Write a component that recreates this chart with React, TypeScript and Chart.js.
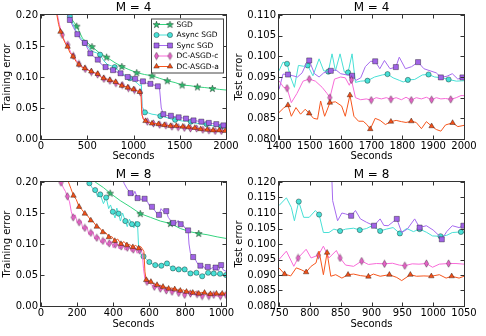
import React, { useEffect, useRef } from 'react';
import { Chart, registerables } from 'chart.js';
import { drawPoint } from 'chart.js/helpers';

Chart.register(...registerables);

type Pt = [number, number];

// ---------- Series names ----------
const seriesNames = ['SGD', 'Async SGD', 'Sync SGD', 'DC-ASGD-c', 'DC-ASGD-a'];

// ---------- Top-left: M = 4, training error ----------
const tlSgd: Pt[] = [[280,0.21],[300,0.200],[386,0.182],[450,0.162],[551,0.149],[630,0.139],[709,0.132],[800,0.123],[874,0.117],[950,0.112],[1035,0.107],[1120,0.104],[1200,0.102],[1280,0.098],[1365,0.094],[1450,0.091],[1526,0.087],[1610,0.086],[1691,0.084],[1770,0.083],[1853,0.0815],[1930,0.080],[2000,0.079]];
const tlSgdMarks = [386,551,709,874,1035,1200,1365,1526,1691,1853];
const tlAsync: Pt[] = [[290,0.21],[312,0.198],[360,0.180],[400,0.168],[474,0.155],[520,0.146],[560,0.141],[600,0.139],[639,0.136],[680,0.126],[720,0.120],[760,0.118],[797,0.116],[840,0.110],[880,0.106],[920,0.101],[961,0.098],[1000,0.095],[1040,0.090],[1070,0.086],[1085,0.088],[1095,0.052],[1123,0.043],[1160,0.042],[1200,0.040],[1245,0.039],[1290,0.037],[1330,0.036],[1370,0.034],[1410,0.032],[1450,0.031],[1490,0.030],[1530,0.029],[1575,0.029],[1620,0.028],[1660,0.026],[1700,0.025],[1745,0.024],[1790,0.024],[1830,0.022],[1870,0.021],[1910,0.021],[1950,0.020],[2000,0.019]];
const tlAsyncMarks = [312,474,639,797,961,1123,1290,1450,1620,1790,1950];
const tlSync: Pt[] = [[280,0.21],[312,0.192],[350,0.180],[393,0.169],[430,0.160],[474,0.155],[500,0.147],[533,0.138],[570,0.133],[614,0.128],[650,0.121],[698,0.116],[740,0.113],[779,0.111],[820,0.108],[860,0.106],[900,0.102],[937,0.100],[980,0.098],[1018,0.097],[1060,0.094],[1102,0.093],[1140,0.090],[1183,0.089],[1220,0.087],[1263,0.085],[1280,0.084],[1300,0.050],[1323,0.040],[1360,0.038],[1404,0.0375],[1450,0.036],[1488,0.035],[1530,0.034],[1568,0.033],[1610,0.031],[1649,0.030],[1690,0.029],[1733,0.028],[1775,0.027],[1814,0.026],[1855,0.025],[1895,0.024],[1935,0.023],[1972,0.022],[2000,0.021]];
const tlSyncMarks = [312,393,474,533,614,698,779,860,937,1018,1102,1183,1263,1323,1404,1488,1568,1649,1733,1814,1895,1972];
const tlDcc: Pt[] = [[165,0.21],[178,0.200],[200,0.184],[230,0.168],[255,0.158],[290,0.152],[320,0.140],[350,0.134],[380,0.127],[410,0.121],[445,0.117],[478,0.113],[510,0.112],[545,0.108],[578,0.106],[612,0.104],[645,0.101],[680,0.097],[712,0.095],[745,0.094],[778,0.092],[810,0.090],[845,0.089],[878,0.087],[910,0.085],[945,0.082],[978,0.080],[1010,0.079],[1045,0.077],[1075,0.075],[1085,0.072],[1095,0.038],[1115,0.031],[1150,0.028],[1180,0.026],[1215,0.025],[1250,0.024],[1283,0.023],[1315,0.022],[1350,0.022],[1383,0.021],[1415,0.020],[1450,0.020],[1483,0.019],[1515,0.019],[1550,0.018],[1583,0.018],[1615,0.017],[1650,0.016],[1683,0.017],[1715,0.016],[1750,0.015],[1783,0.015],[1815,0.014],[1850,0.014],[1883,0.013],[1915,0.014],[1950,0.013],[1983,0.012],[2000,0.012]];
const tlDccMarks = [230,290,350,410,478,545,612,680,745,810,878,945,1010,1075,1150,1215,1283,1350,1415,1483,1550,1615,1683,1750,1815,1883,1950];
const tlDca: Pt[] = [[160,0.21],[172,0.200],[190,0.185],[211,0.173],[240,0.162],[260,0.155],[288,0.149],[310,0.140],[347,0.133],[380,0.125],[411,0.120],[440,0.116],[474,0.114],[510,0.111],[544,0.109],[580,0.107],[614,0.105],[645,0.100],[677,0.098],[710,0.097],[744,0.095],[775,0.094],[807,0.092],[840,0.088],[874,0.086],[905,0.085],[937,0.083],[970,0.081],[1000,0.080],[1035,0.078],[1067,0.076],[1080,0.074],[1090,0.040],[1105,0.032],[1130,0.029],[1165,0.027],[1200,0.025],[1235,0.025],[1270,0.024],[1300,0.023],[1333,0.0225],[1365,0.022],[1400,0.021],[1430,0.0215],[1463,0.021],[1500,0.020],[1533,0.020],[1565,0.019],[1596,0.019],[1630,0.018],[1663,0.018],[1695,0.017],[1726,0.016],[1760,0.016],[1797,0.015],[1830,0.015],[1860,0.014],[1895,0.014],[1926,0.014],[1960,0.013],[1990,0.013],[2000,0.013]];
const tlDcaMarks = [211,288,347,411,474,544,614,677,744,807,874,937,1000,1067,1130,1200,1270,1333,1400,1463,1533,1596,1663,1726,1797,1860,1926,1990];

// ---------- Top-right: M = 4, test error ----------
const trAsync: Pt[] = [[1400,0.0965],[1413,0.0986],[1426,0.0982],[1438,0.0949],[1450,0.0925],[1463,0.0978],[1480,0.0976],[1493,0.0978],[1510,0.0953],[1530,0.0994],[1545,0.0965],[1560,0.0963],[1572,0.1006],[1583,0.0965],[1598,0.1006],[1612,0.0962],[1624,0.0961],[1637,0.1006],[1648,0.0937],[1665,0.0940],[1687,0.0941],[1710,0.0950],[1735,0.0955],[1752,0.0957],[1770,0.0948],[1790,0.0942],[1803,0.0938],[1818,0.0943],[1840,0.0944],[1865,0.0955],[1885,0.0956],[1905,0.0950],[1930,0.0948],[1950,0.0944],[1975,0.0940],[2000,0.0941]];
const trAsyncMarks = [1426,1493,1560,1624,1687,1752,1818,1885,1950];
const trSync: Pt[] = [[1400,0.0920],[1413,0.0957],[1429,0.0956],[1445,0.0953],[1460,0.0950],[1475,0.0960],[1490,0.0985],[1498,0.0990],[1515,0.0958],[1530,0.0950],[1545,0.0960],[1568,0.0965],[1585,0.0967],[1600,0.0958],[1620,0.0955],[1637,0.0953],[1650,0.0942],[1665,0.0948],[1680,0.0975],[1697,0.0988],[1712,0.0988],[1727,0.0970],[1742,0.0990],[1760,0.0970],[1779,0.0974],[1790,0.0998],[1810,0.0970],[1830,0.0975],[1851,0.0986],[1870,0.0970],[1890,0.0965],[1910,0.0960],[1925,0.0949],[1945,0.0952],[1962,0.0958],[1980,0.0945],[1995,0.0949],[2000,0.0951]];
const trSyncMarks = [1429,1498,1568,1637,1712,1779,1851,1925,1995];
const trDcc: Pt[] = [[1400,0.0941],[1415,0.0925],[1426,0.0923],[1440,0.0888],[1458,0.0910],[1478,0.0940],[1498,0.0945],[1518,0.0940],[1540,0.0925],[1556,0.0910],[1565,0.0900],[1580,0.0945],[1600,0.0950],[1615,0.0948],[1628,0.0930],[1635,0.0943],[1648,0.0900],[1665,0.0895],[1683,0.0897],[1699,0.0894],[1715,0.0900],[1732,0.0897],[1748,0.0900],[1763,0.0896],[1780,0.0900],[1797,0.0895],[1812,0.0901],[1829,0.0894],[1845,0.0900],[1862,0.0897],[1878,0.0901],[1895,0.0895],[1910,0.0900],[1925,0.0897],[1940,0.0898],[1957,0.0896],[1975,0.0900],[1990,0.0905],[2000,0.0905]];
const trDccMarks = [1426,1498,1565,1635,1699,1763,1829,1895,1957];
const trDca: Pt[] = [[1400,0.0864],[1415,0.0875],[1429,0.0882],[1440,0.0855],[1455,0.0876],[1470,0.0860],[1485,0.0872],[1498,0.0862],[1512,0.0850],[1525,0.0848],[1535,0.0892],[1548,0.0855],[1556,0.0870],[1565,0.0888],[1583,0.0890],[1603,0.0880],[1615,0.0855],[1630,0.0906],[1643,0.0855],[1658,0.0843],[1673,0.0843],[1685,0.0835],[1696,0.0824],[1712,0.0850],[1728,0.0845],[1745,0.0835],[1763,0.0842],[1780,0.0845],[1797,0.0842],[1812,0.0840],[1829,0.0843],[1845,0.0840],[1862,0.0825],[1878,0.0842],[1895,0.0831],[1910,0.0823],[1925,0.0819],[1940,0.0834],[1963,0.0839],[1980,0.0830],[2000,0.0833]];
const trDcaMarks = [1429,1498,1565,1630,1696,1763,1829,1895,1963];

// ---------- Bottom-left: M = 8, training error ----------
const blSgd: Pt[] = [[290,0.205],[300,0.200],[346,0.191],[383,0.182],[439,0.170],[494,0.160],[550,0.149],[606,0.143],[661,0.137],[717,0.133],[772,0.125],[828,0.1196],[874,0.117],[920,0.115],[976,0.1115],[1025,0.109]];
const blSgdMarks = [383,550,717,874];
const blAsync: Pt[] = [[255,0.21],[268,0.198],[285,0.190],[300,0.187],[314,0.176],[328,0.180],[346,0.165],[361,0.175],[375,0.157],[385,0.163],[398,0.152],[410,0.142],[420,0.158],[430,0.149],[440,0.137],[452,0.150],[467,0.137],[478,0.128],[490,0.140],[504,0.132],[515,0.126],[525,0.137],[535,0.132],[540,0.100],[550,0.084],[568,0.080],[585,0.075],[600,0.071],[615,0.068],[633,0.066],[650,0.066],[667,0.065],[683,0.068],[698,0.0686],[715,0.064],[731,0.0606],[748,0.060],[763,0.059],[780,0.060],[796,0.059],[812,0.055],[828,0.0525],[845,0.054],[861,0.0536],[877,0.050],[893,0.048],[910,0.052],[926,0.0536],[941,0.052],[957,0.0525],[975,0.051],[992,0.052],[1010,0.051],[1025,0.050]];
const blAsyncMarks = [268,300,328,361,398,430,467,504,535,568,600,633,667,698,731,763,796,828,861,893,926,957,992,1025];
const blSync: Pt[] = [[450,0.21],[460,0.198],[475,0.190],[496,0.182],[510,0.178],[520,0.185],[535,0.174],[555,0.172],[574,0.173],[590,0.168],[600,0.162],[615,0.160],[628,0.155],[640,0.150],[654,0.147],[665,0.157],[680,0.152],[694,0.153],[705,0.143],[718,0.138],[733,0.134],[748,0.133],[760,0.138],[774,0.132],[788,0.130],[800,0.125],[815,0.122],[820,0.100],[828,0.085],[843,0.079],[855,0.075],[868,0.068],[883,0.065],[900,0.064],[910,0.060],[924,0.063],[940,0.060],[952,0.062],[967,0.062],[983,0.057],[998,0.066],[1010,0.058],[1025,0.056]];
const blSyncMarks = [496,535,574,615,654,694,733,774,815,843,883,924,967,998];
const blDcc: Pt[] = [[105,0.21],[111,0.199],[125,0.190],[135,0.185],[146,0.177],[158,0.168],[168,0.152],[178,0.143],[190,0.147],[200,0.135],[211,0.135],[222,0.138],[232,0.124],[243,0.126],[255,0.128],[265,0.115],[276,0.118],[288,0.120],[298,0.108],[309,0.110],[320,0.112],[332,0.102],[343,0.105],[355,0.108],[366,0.098],[378,0.101],[390,0.104],[400,0.094],[411,0.099],[422,0.101],[433,0.092],[444,0.096],[455,0.099],[466,0.090],[478,0.094],[490,0.096],[500,0.088],[511,0.091],[522,0.094],[533,0.085],[545,0.090],[555,0.092],[562,0.082],[568,0.060],[575,0.045],[587,0.039],[600,0.037],[613,0.034],[628,0.031],[645,0.030],[661,0.028],[678,0.027],[694,0.025],[710,0.026],[726,0.023],[745,0.024],[763,0.021],[780,0.022],[796,0.018],[812,0.021],[828,0.020],[846,0.018],[865,0.019],[880,0.017],[893,0.016],[912,0.018],[930,0.016],[945,0.018],[957,0.018],[975,0.016],[994,0.016],[1010,0.018],[1025,0.018]];
const blDccMarks = [111,146,178,211,243,276,309,343,378,411,444,478,511,545,587,628,661,694,726,763,796,828,865,893,930,957,994,1025];
const blDca: Pt[] = [[145,0.21],[152,0.200],[165,0.190],[180,0.178],[195,0.172],[211,0.160],[228,0.155],[243,0.149],[260,0.145],[276,0.138],[292,0.135],[309,0.128],[325,0.126],[343,0.119],[360,0.118],[376,0.111],[392,0.112],[409,0.105],[425,0.108],[443,0.100],[460,0.104],[476,0.098],[492,0.099],[509,0.095],[525,0.098],[541,0.093],[552,0.096],[562,0.092],[570,0.088],[576,0.055],[583,0.042],[596,0.041],[609,0.039],[625,0.036],[643,0.034],[660,0.033],[676,0.031],[692,0.030],[707,0.028],[724,0.029],[741,0.027],[757,0.026],[772,0.0247],[790,0.026],[806,0.023],[824,0.024],[841,0.0214],[857,0.023],[874,0.020],[890,0.022],[906,0.0214],[922,0.019],[939,0.0193],[955,0.021],[972,0.020],[988,0.019],[1004,0.020],[1025,0.021]];
const blDcaMarks = [180,211,243,276,309,343,376,409,443,476,509,541,583,609,643,676,707,741,772,806,841,874,906,939,972,1004];

// ---------- Bottom-right: M = 8, test error ----------
const brAsync: Pt[] = [[750,0.1124],[762,0.1149],[770,0.1118],[775,0.1075],[782,0.1137],[790,0.1086],[799,0.1086],[809,0.1108],[815,0.1095],[822,0.1037],[831,0.1037],[839,0.1048],[849,0.1042],[858,0.1048],[871,0.1051],[881,0.1045],[892,0.1050],[901,0.1059],[914,0.1042],[924,0.1048],[935,0.1053],[946,0.1034],[957,0.1050],[968,0.1040],[978,0.1048],[989,0.1038],[999,0.1026],[1012,0.1025],[1022,0.1028],[1031,0.1037],[1045,0.1039],[1050,0.1037]];
const brAsyncMarks = [782,815,849,881,914,946,978,1012,1045];
const brSync: Pt[] = [[835,0.125],[837,0.114],[845,0.1075],[852,0.110],[858,0.1097],[867,0.1091],[874,0.1108],[882,0.1081],[892,0.1070],[904,0.1059],[914,0.1081],[920,0.1060],[927,0.1059],[941,0.1081],[949,0.1037],[958,0.1048],[970,0.1081],[978,0.1053],[989,0.1059],[1000,0.1045],[1008,0.1030],[1014,0.1015],[1022,0.1040],[1031,0.1059],[1042,0.1053],[1049,0.1059],[1050,0.1060]];
const brSyncMarks = [867,904,941,978,1014,1049];
const brDcc: Pt[] = [[750,0.0950],[762,0.0977],[774,0.0928],[781,0.0955],[794,0.0983],[802,0.0955],[814,0.0964],[822,0.0993],[831,0.0955],[843,0.0979],[849,0.0955],[858,0.0932],[871,0.0928],[884,0.0945],[895,0.0934],[908,0.0937],[921,0.0936],[934,0.0938],[945,0.0932],[954,0.0930],[966,0.0936],[977,0.0935],[989,0.0937],[999,0.0925],[1010,0.0935],[1025,0.0937],[1037,0.0937],[1050,0.0935]];
const brDccMarks = [781,814,849,884,921,954,989,1025];
const brDca: Pt[] = [[750,0.0923],[759,0.0903],[769,0.0897],[778,0.0923],[786,0.0917],[794,0.0909],[802,0.0928],[810,0.0939],[815,0.0977],[822,0.0901],[828,0.0972],[834,0.0896],[842,0.0901],[852,0.0890],[862,0.0901],[871,0.0903],[882,0.0898],[895,0.0895],[903,0.0903],[914,0.0896],[929,0.0901],[941,0.0892],[949,0.0882],[963,0.0901],[973,0.0896],[985,0.0897],[997,0.0896],[1010,0.0901],[1021,0.0890],[1030,0.0896],[1042,0.0890],[1050,0.0896]];
const brDcaMarks = [759,794,828,862,895,929,963,997,1030];

// ---------- Ticks ----------
const tlXTicks = [0, 500, 1000, 1500, 2000];
const trXTicks = [1400, 1500, 1600, 1700, 1800, 1900, 2000];
const blXTicks = [0, 200, 400, 600, 800, 1000];
const brXTicks = [750, 800, 850, 900, 950, 1000, 1050];
const trainYTicks = [0, 0.05, 0.1, 0.15, 0.2];
const tr4YTicks = [0.08, 0.085, 0.09, 0.095, 0.1, 0.105, 0.11];
const tr8YTicks = [0.08, 0.085, 0.09, 0.095, 0.1, 0.105, 0.11, 0.115, 0.12];

// ---------- Styles ----------
const FONT = 'DejaVu Sans';
const lineColors = ['#36d47f', '#48e0d6', '#a66bef', '#f86bd8', '#f6561d'];
const markFills = ['#2fc070', '#48e0d6', '#a063e6', '#e762c8', '#f0501a'];
const MARK_EDGE = 'rgba(0,0,0,0.6)';

function makeStar(fill: string) {
  const c = document.createElement('canvas');
  c.width = 9; c.height = 9;
  const g = c.getContext('2d')!;
  g.beginPath();
  for (let i = 0; i < 10; i++) {
    const a = -Math.PI / 2 + (i * Math.PI) / 5;
    const rr = i % 2 ? 1.5 : 3.7;
    const px = 4.5 + rr * Math.cos(a), py = 4.8 + rr * Math.sin(a);
    if (i) g.lineTo(px, py); else g.moveTo(px, py);
  }
  g.closePath();
  g.fillStyle = fill; g.fill();
  g.strokeStyle = MARK_EDGE; g.lineWidth = 0.6; g.stroke();
  return c;
}
function makeDiamond(fill: string) {
  const c = document.createElement('canvas');
  c.width = 7; c.height = 9;
  const g = c.getContext('2d')!;
  g.beginPath();
  g.moveTo(3.5, 0.8); g.lineTo(5.6, 4.5); g.lineTo(3.5, 8.2); g.lineTo(1.4, 4.5); g.closePath();
  g.fillStyle = fill; g.fill();
  g.strokeStyle = MARK_EDGE; g.lineWidth = 0.6; g.stroke();
  return c;
}

type MarkerSpec = { style: any; radius: number };
function markerSpecs(): MarkerSpec[] {
  return [
    { style: makeStar(markFills[0]), radius: 3 },
    { style: 'circle', radius: 2.6 },
    { style: 'rect', radius: 3.6 },
    { style: makeDiamond(markFills[3]), radius: 3 },
    { style: 'triangle', radius: 3.2 },
  ];
}

type PanelDef = {
  left: number; top: number; w: number; h: number;
  yw: number; padR: number; titleH: number; xh: number;
  title: string; yTitle: string; yTitlePad: number;
  xMin: number; xMax: number; xTicks: number[];
  yMin: number; yMax: number; yTicks: number[]; yDec: number;
  lines: Pt[][]; marks: number[][]; legend: boolean;
};

const panels: PanelDef[] = [
  { left: 0, top: 0, w: 243, h: 168, yw: 41, padR: 17, titleH: 15, xh: 29, title: 'M = 4', yTitle: 'Training error', yTitlePad: 1.5,
    xMin: 0, xMax: 2000, xTicks: tlXTicks, yMin: 0, yMax: 0.2, yTicks: trainYTicks, yDec: 2,
    lines: [tlSgd, tlAsync, tlSync, tlDcc, tlDca], marks: [tlSgdMarks, tlAsyncMarks, tlSyncMarks, tlDccMarks, tlDcaMarks], legend: true },
  { left: 226, top: 0, w: 260, h: 168, yw: 53, padR: 22, titleH: 15, xh: 29, title: 'M = 4', yTitle: 'Test error', yTitlePad: 7.8,
    xMin: 1400, xMax: 2000, xTicks: trXTicks, yMin: 0.08, yMax: 0.11, yTicks: tr4YTicks, yDec: 3,
    lines: [[], trAsync, trSync, trDcc, trDca], marks: [[], trAsyncMarks, trSyncMarks, trDccMarks, trDcaMarks], legend: false },
  { left: 0, top: 168, w: 243, h: 168, yw: 41, padR: 17, titleH: 14, xh: 30, title: 'M = 8', yTitle: 'Training error', yTitlePad: 1.5,
    xMin: 0, xMax: 1025, xTicks: blXTicks, yMin: 0, yMax: 0.2, yTicks: trainYTicks, yDec: 2,
    lines: [blSgd, blAsync, blSync, blDcc, blDca], marks: [blSgdMarks, blAsyncMarks, blSyncMarks, blDccMarks, blDcaMarks], legend: false },
  { left: 226, top: 168, w: 260, h: 168, yw: 53, padR: 22, titleH: 14, xh: 30, title: 'M = 8', yTitle: 'Test error', yTitlePad: 7.8,
    xMin: 750, xMax: 1050, xTicks: brXTicks, yMin: 0.08, yMax: 0.12, yTicks: tr8YTicks, yDec: 3,
    lines: [[], brAsync, brSync, brDcc, brDca], marks: [[], brAsyncMarks, brSyncMarks, brDccMarks, brDcaMarks], legend: false },
];

const framePlugin = {
  id: 'frameTicks',
  afterDatasetsDraw(chart: any) {
    const { ctx, chartArea: a } = chart;
    const xs = chart.scales.x, ys = chart.scales.y;
    const L = 3.5;
    ctx.save();
    ctx.strokeStyle = '#333';
    ctx.lineWidth = 1;
    ctx.beginPath();
    xs.ticks.forEach((t: any) => {
      const p = Math.round(xs.getPixelForValue(t.value)) + 0.5;
      ctx.moveTo(p, a.bottom); ctx.lineTo(p, a.bottom - L);
      ctx.moveTo(p, a.top); ctx.lineTo(p, a.top + L);
    });
    ys.ticks.forEach((t: any) => {
      const p = Math.round(ys.getPixelForValue(t.value)) + 0.5;
      ctx.moveTo(a.left, p); ctx.lineTo(a.left + L, p);
      ctx.moveTo(a.right, p); ctx.lineTo(a.right - L, p);
    });
    ctx.stroke();
    ctx.strokeRect(Math.round(a.left) - 0.5, Math.round(a.top) - 0.5, Math.round(a.right - a.left) + 1, Math.round(a.bottom - a.top) + 1);
    ctx.restore();
  },
};

function legendPlugin(specs: MarkerSpec[]) {
  return {
    id: 'mplLegend',
    afterDraw(chart: any) {
      const ctx = chart.ctx;
      const bx = 151, by = 18.5, bw = 72, bh = 54;
      ctx.save();
      ctx.fillStyle = '#fff';
      ctx.fillRect(bx, by, bw, bh);
      ctx.strokeStyle = '#444';
      ctx.lineWidth = 1;
      ctx.strokeRect(bx + 0.5, by + 0.5, bw, bh);
      ctx.font = `7.5px "${FONT}"`;
      ctx.textBaseline = 'middle';
      seriesNames.forEach((name, i) => {
        const y = by + 6 + i * 10.5;
        ctx.strokeStyle = lineColors[i];
        ctx.lineWidth = 1;
        ctx.beginPath(); ctx.moveTo(156.5, y); ctx.lineTo(170, y); ctx.stroke();
        [156.5, 170].forEach((x) => {
          ctx.fillStyle = markFills[i];
          ctx.strokeStyle = MARK_EDGE;
          ctx.lineWidth = 0.6;
          drawPoint(ctx, { pointStyle: specs[i].style, rotation: 0, radius: specs[i].radius, borderWidth: 0.6 } as any, x, y);
        });
        ctx.fillStyle = '#000';
        ctx.fillText(name, 176.5, y + 0.5);
      });
      ctx.restore();
    },
  };
}

function buildConfig(p: PanelDef): any {
  const specs = markerSpecs();
  const datasets: any[] = [];
  p.lines.forEach((line, i) => {
    if (!line.length) return;
    const markSet = new Set(p.marks[i]);
    datasets.push({
      label: seriesNames[i],
      data: line.map(([x, y]) => ({ x, y })),
      borderColor: lineColors[i],
      borderWidth: 1,
      pointStyle: specs[i].style,
      pointRadius: (c: any) => (c.raw && markSet.has(c.raw.x) ? specs[i].radius : 0),
      pointBackgroundColor: markFills[i],
      pointBorderColor: MARK_EDGE,
      pointBorderWidth: 0.6,
      tension: 0,
      fill: false,
      clip: 0,
      order: 4 - i,
    });
  });
  const plugins: any[] = [framePlugin];
  if (p.legend) plugins.push(legendPlugin(specs));
  return {
    type: 'line',
    data: { datasets },
    plugins,
    options: {
      animation: false,
      responsive: false,
      devicePixelRatio: 1,
      events: [],
      layout: { padding: { left: 0, right: p.padR, top: 0, bottom: 0 } },
      plugins: {
        legend: { display: false },
        tooltip: { enabled: false },
        title: {
          display: true, text: p.title, fullSize: false, color: '#000',
          font: { family: FONT, size: 12, weight: 'normal', lineHeight: p.titleH / 12 },
          padding: { top: 0, bottom: 0 },
        },
      },
      scales: {
        x: {
          type: 'linear', min: p.xMin, max: p.xMax,
          afterBuildTicks: (s: any) => { s.ticks = p.xTicks.map((v) => ({ value: v })); },
          afterFit: (s: any) => { s.height = p.xh; },
          grid: { display: false, drawTicks: false },
          border: { display: false },
          ticks: { autoSkip: false, maxRotation: 0, padding: 1, color: '#000', font: { family: FONT, size: 10 }, callback: (v: any) => String(v) },
          title: { display: true, text: 'Seconds', color: '#000', font: { family: FONT, size: 10 }, padding: { top: 0, bottom: 6 } },
        },
        y: {
          type: 'linear', min: p.yMin, max: p.yMax,
          afterBuildTicks: (s: any) => { s.ticks = p.yTicks.map((v) => ({ value: v })); },
          afterFit: (s: any) => { s.width = p.yw; },
          grid: { display: false, drawTicks: false },
          border: { display: false },
          ticks: { autoSkip: false, padding: 3, color: '#000', font: { family: FONT, size: 10 }, callback: (v: any) => Number(v).toFixed(p.yDec) },
          title: { display: true, text: p.yTitle, color: '#000', font: { family: FONT, size: 10 }, padding: { top: p.yTitlePad, bottom: 0 } },
        },
      },
    },
  };
}

function Panel({ def }: { def: PanelDef }) {
  const ref = useRef<HTMLCanvasElement>(null);
  useEffect(() => {
    if (!ref.current) return;
    const chart = new Chart(ref.current, buildConfig(def));
    return () => chart.destroy();
  }, [def]);
  return (
    <canvas
      ref={ref}
      width={def.w}
      height={def.h}
      style={{ position: 'absolute', left: def.left, top: def.top, width: def.w, height: def.h }}
    />
  );
}

export default function App() {
  Chart.defaults.font.family = FONT;
  Chart.defaults.color = '#000';
  return (
    <div style={{ position: 'absolute', left: 0, top: 0, width: 486, height: 336, background: '#fff', overflow: 'hidden' }}>
      {panels.map((p, i) => (
        <Panel key={i} def={p} />
      ))}
    </div>
  );
}
